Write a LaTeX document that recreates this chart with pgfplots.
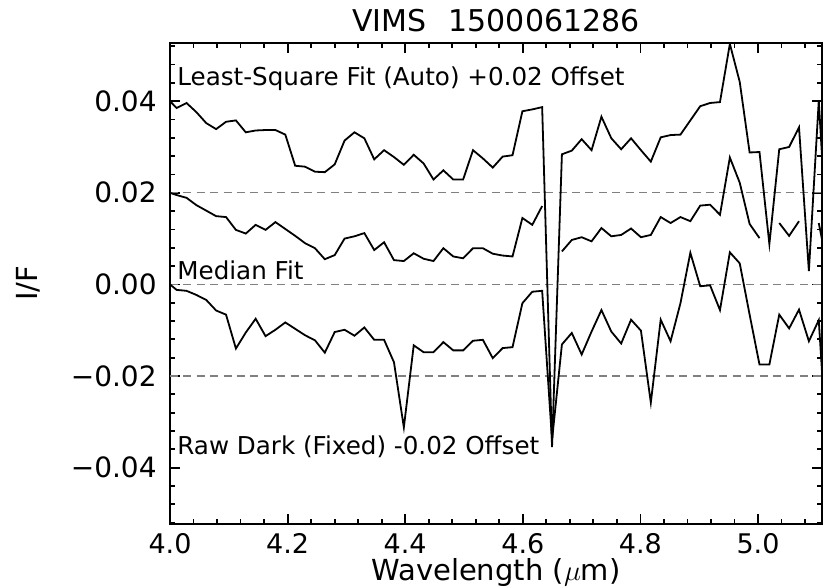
\documentclass[border=0pt]{standalone}
\usepackage{fontspec}
\setmainfont{DejaVu Sans}
\usepackage{pgfplots}
\pgfplotsset{compat=1.18}
\usepackage{pgfplotstable}

\pgfplotstableread{
x up med low
4.0000 0.0400 0.0200 0.0000
4.0113 0.0385 0.0195 -0.0012
4.0281 0.0396 0.0189 -0.0014
4.0449 0.0376 0.0173 -0.0023
4.0617 0.0352 0.0161 -0.0034
4.0785 0.0339 0.0149 -0.0057
4.0953 0.0355 0.0147 -0.0066
4.1121 0.0358 0.0119 -0.0140
4.1289 0.0332 0.0111 -0.0105
4.1457 0.0336 0.0130 -0.0075
4.1625 0.0337 0.0119 -0.0113
4.1793 0.0337 0.0136 -0.0099
4.1961 0.0327 0.0121 -0.0083
4.2129 0.0259 0.0106 -0.0097
4.2297 0.0257 0.0090 -0.0111
4.2465 0.0246 0.0079 -0.0122
4.2633 0.0245 0.0055 -0.0149
4.2801 0.0262 0.0064 -0.0104
4.2969 0.0314 0.0100 -0.0099
4.3137 0.0332 0.0105 -0.0112
4.3305 0.0319 0.0112 -0.0094
4.3473 0.0273 0.0075 -0.0121
4.3641 0.0293 0.0092 -0.0121
4.3809 0.0278 0.0053 -0.0170
4.3977 0.0261 0.0051 -0.0312
4.4145 0.0283 0.0068 -0.0133
4.4313 0.0264 0.0056 -0.0148
4.4481 0.0229 0.0051 -0.0148
4.4649 0.0249 0.0079 -0.0126
4.4817 0.0229 0.0061 -0.0144
4.4985 0.0229 0.0057 -0.0144
4.5153 0.0293 0.0079 -0.0123
4.5321 0.0275 0.0079 -0.0121
4.5489 0.0255 0.0067 -0.0161
4.5657 0.0279 0.0063 -0.0139
4.5825 0.0282 0.0061 -0.0137
4.5993 0.0378 0.0145 -0.0041
4.6161 0.0382 0.0130 -0.0016
4.6329 0.0387 0.0171 -0.0014
4.6497 -0.0355 nan -0.0340
4.6665 0.0284 0.0072 -0.0131
4.6833 0.0292 0.0097 -0.0106
4.7001 0.0317 0.0103 -0.0153
4.7169 0.0293 0.0094 -0.0103
4.7337 0.0366 0.0123 -0.0056
4.7505 0.0319 0.0105 -0.0103
4.7673 0.0295 0.0108 -0.0129
4.7841 0.0319 0.0122 -0.0077
4.8009 0.0293 0.0103 -0.0101
4.8177 0.0268 0.0108 -0.0258
4.8345 0.0321 0.0147 -0.0077
4.8513 0.0326 0.0134 -0.0124
4.8681 0.0327 0.0147 -0.0041
4.8849 0.0358 0.0138 0.0069
4.9017 0.0389 0.0172 -0.0004
4.9185 0.0396 0.0174 -0.0002
4.9353 0.0398 0.0152 -0.0056
4.9521 0.0525 0.0277 0.0070
4.9689 0.0442 0.0222 0.0046
4.9857 0.0288 0.0132 -0.0066
5.0025 0.0289 0.0101 -0.0175
5.0193 0.0088 nan -0.0175
5.0361 0.0295 0.0134 -0.0066
5.0529 0.0300 0.0106 -0.0096
5.0697 0.0343 0.0138 -0.0055
5.0865 0.0029 nan -0.0124
5.1033 0.0401 0.0134 -0.0078
5.1201 0.0034 0.0025 -0.0420
}\data

\begin{document}
\begin{tikzpicture}
\begin{axis}[name=ax, at={(0,0)}, anchor=south west,
  scale only axis, width=326pt, height=240.5pt,
  xmin=4.0, xmax=5.1088, ymin=-0.0523, ymax=0.0527,
  xtick={4.0,4.2,4.4,4.6,4.8,5.0},
  xticklabels={4.0,4.2,4.4,4.6,4.8,5.0},
  ytick={-0.04,-0.02,0,0.02,0.04},
  yticklabels={−0.04,−0.02,0.00,0.02,0.04},
  minor xtick={4.04,4.08,4.12,4.16,4.24,4.28,4.32,4.36,4.44,4.48,4.52,4.56,4.64,4.68,4.72,4.76,4.84,4.88,4.92,4.96,5.04,5.08},
  minor ytick={-0.052,-0.048,-0.044,-0.036,-0.032,-0.028,-0.024,-0.016,-0.012,-0.008,-0.004,0.004,0.008,0.012,0.016,0.024,0.028,0.032,0.036,0.044,0.048,0.052},
  tick align=inside, xtick pos=both, ytick pos=both,
  major tick length=5pt, minor tick length=2.5pt,
  axis line style={line width=1pt},
  every tick/.style={black, line width=0.9pt},
  xticklabel style={anchor=north, inner sep=0pt, yshift=-4.5pt, font=\fontsize{13.5}{16}\selectfont},
  yticklabel style={anchor=east, inner sep=0pt, xshift=-6.5pt, font=\fontsize{14}{16}\selectfont},
  scaled y ticks=false,
  unbounded coords=jump,
  clip=true,
]
\addplot[gray, line width=0.6pt, dash pattern=on 4pt off 2.7pt] coordinates {(4.0,0.02) (5.12,0.02)};
\addplot[gray, line width=0.6pt, dash pattern=on 4pt off 2.7pt] coordinates {(4.0,0.0) (5.12,0.0)};
\addplot[gray, line width=0.6pt, dash pattern=on 4pt off 2.7pt] coordinates {(4.0,-0.02) (5.12,-0.02)};
\addplot[black, line width=0.9pt] table[x=x, y=up] {\data};
\addplot[black, line width=0.9pt] table[x=x, y=med] {\data};
\addplot[black, line width=0.9pt] table[x=x, y=low] {\data};
\node[anchor=base west, inner sep=0pt, font=\fontsize{12.3}{14}\selectfont] at ([xshift=3.5pt]axis cs:4.0,0.0434) {Least-Square Fit (Auto) +0.02 Offset};
\node[anchor=base west, inner sep=0pt, font=\fontsize{12.3}{14}\selectfont] at ([xshift=3.5pt]axis cs:4.0,0.0011) {Median Fit};
\node[anchor=base west, inner sep=0pt, font=\fontsize{12.3}{14}\selectfont] at ([xshift=3.5pt]axis cs:4.0,-0.0372) {Raw Dark (Fixed) -0.02 Offset};
\end{axis}
\node[anchor=base, inner sep=0pt, font=\fontsize{15}{17}\selectfont] at ([yshift=5.5pt]ax.north) {VIMS\hspace{11pt}1500061286};
\node[anchor=base, inner sep=0pt, font=\fontsize{14.5}{17}\selectfont] at ([yshift=-28.2pt]ax.south) {Wavelength ($\mu$m)};
\node[rotate=90, anchor=center, inner sep=0pt, font=\fontsize{14.5}{17}\selectfont] at ([xshift=-71pt]ax.west) {I/F};
\pgfresetboundingbox
\path[use as bounding box] ([shift={(-85pt,-32pt)}]ax.south west) rectangle ([shift={(1.5pt,21.5pt)}]ax.north east);
\end{tikzpicture}
\end{document}
